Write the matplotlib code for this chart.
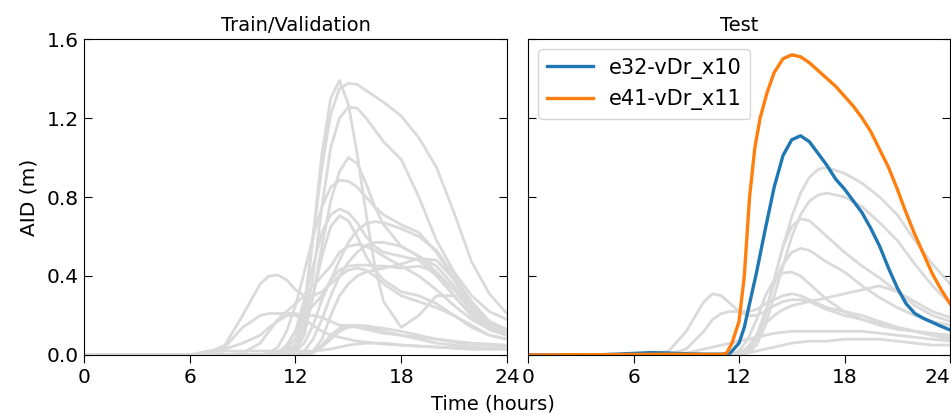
import matplotlib
matplotlib.use("Agg")
import matplotlib.pyplot as plt

# time grid (hours) shared by the grey ensemble curves
HOURS = [0, 6, 7, 8, 9, 10, 10.5, 11, 11.5, 12, 12.5, 13, 13.5, 14, 14.5,
         15, 15.5, 16, 16.5, 17, 18, 19, 20, 21, 22, 23, 24]

# AID (m) for the train/validation events
TRAIN_VAL = [
    [0, 0, 0, 0, 0, 0, 0, 0.01, 0.02, 0.05, 0.2, 0.6, 1.02, 1.3, 1.39,
     1.27, 1.02, 0.72, 0.45, 0.27, 0.14, 0.2, 0.3, 0.3, 0.2, 0.13, 0.1],
    [0, 0, 0, 0, 0, 0, 0, 0.01, 0.03, 0.08, 0.25, 0.6, 0.95, 1.22, 1.35,
     1.375, 1.37, 1.34, 1.31, 1.28, 1.21, 1.1, 0.95, 0.72, 0.47, 0.31, 0.21],
    [0, 0, 0, 0, 0, 0, 0, 0, 0.01, 0.04, 0.15, 0.4, 0.75, 1.05, 1.2,
     1.255, 1.25, 1.2, 1.14, 1.08, 0.99, 0.8, 0.58, 0.42, 0.3, 0.22, 0.18],
    [0, 0, 0, 0, 0, 0, 0, 0, 0.005, 0.02, 0.1, 0.3, 0.55, 0.78, 0.93,
     1.0, 0.97, 0.87, 0.75, 0.66, 0.55, 0.5, 0.42, 0.3, 0.2, 0.14, 0.11],
    [0, 0, 0, 0, 0, 0, 0.01, 0.04, 0.12, 0.25, 0.42, 0.6, 0.75, 0.85, 0.885,
     0.88, 0.85, 0.8, 0.75, 0.71, 0.66, 0.62, 0.52, 0.38, 0.25, 0.17, 0.13],
    [0, 0, 0, 0, 0, 0, 0, 0.01, 0.04, 0.12, 0.28, 0.45, 0.62, 0.71, 0.74,
     0.72, 0.67, 0.6, 0.55, 0.52, 0.5, 0.48, 0.4, 0.3, 0.2, 0.13, 0.1],
    [0, 0, 0, 0, 0, 0, 0, 0, 0.01, 0.03, 0.12, 0.3, 0.5, 0.65, 0.705,
     0.68, 0.6, 0.5, 0.43, 0.38, 0.32, 0.3, 0.26, 0.2, 0.14, 0.1, 0.08],
    [0, 0, 0, 0, 0, 0, 0, 0.01, 0.05, 0.12, 0.2, 0.25, 0.3, 0.38, 0.48,
     0.57, 0.63, 0.665, 0.675, 0.67, 0.64, 0.6, 0.53, 0.4, 0.27, 0.17, 0.12],
    [0, 0, 0, 0, 0, 0, 0, 0, 0, 0, 0.02, 0.08, 0.18, 0.3, 0.4,
     0.47, 0.52, 0.555, 0.57, 0.57, 0.55, 0.5, 0.45, 0.35, 0.24, 0.16, 0.12],
    [0, 0, 0, 0, 0, 0, 0, 0, 0, 0.02, 0.06, 0.15, 0.28, 0.38, 0.43,
     0.45, 0.455, 0.455, 0.45, 0.45, 0.44, 0.45, 0.42, 0.33, 0.22, 0.15, 0.11],
    [0, 0, 0, 0, 0, 0, 0, 0, 0, 0, 0, 0.02, 0.08, 0.2, 0.3,
     0.36, 0.4, 0.42, 0.43, 0.44, 0.46, 0.49, 0.48, 0.38, 0.25, 0.16, 0.11],
    [0, 0, 0.01, 0.05, 0.2, 0.36, 0.4, 0.405, 0.38, 0.33, 0.3, 0.3, 0.32, 0.36, 0.4,
     0.43, 0.44, 0.43, 0.4, 0.36, 0.3, 0.27, 0.24, 0.2, 0.15, 0.1, 0.08],
    [0, 0, 0.01, 0.04, 0.14, 0.2, 0.21, 0.21, 0.21, 0.21, 0.2, 0.2, 0.19, 0.17, 0.15,
     0.15, 0.14, 0.13, 0.12, 0.11, 0.1, 0.09, 0.08, 0.07, 0.06, 0.055, 0.05],
    [0, 0, 0, 0, 0, 0, 0, 0, 0, 0, 0.005, 0.02, 0.05, 0.1, 0.135,
     0.15, 0.15, 0.148, 0.14, 0.135, 0.12, 0.1, 0.08, 0.065, 0.055, 0.05, 0.045],
    [0, 0, 0, 0, 0, 0, 0, 0, 0, 0, 0, 0.01, 0.04, 0.08, 0.12,
     0.14, 0.145, 0.14, 0.13, 0.12, 0.1, 0.08, 0.06, 0.05, 0.04, 0.035, 0.03],
    [0, 0, 0.02, 0.03, 0.06, 0.1, 0.14, 0.17, 0.2, 0.2, 0.18, 0.15, 0.12, 0.1, 0.09,
     0.08, 0.07, 0.065, 0.06, 0.055, 0.05, 0.045, 0.04, 0.035, 0.03, 0.03, 0.03],
    [0, 0, 0, 0, 0.01, 0.06, 0.12, 0.18, 0.22, 0.26, 0.3, 0.35, 0.4, 0.45, 0.52,
     0.55, 0.56, 0.55, 0.53, 0.5, 0.45, 0.4, 0.33, 0.25, 0.18, 0.13, 0.1],
    [0, 0, 0.01, 0.02, 0.02, 0.02, 0.02, 0.02, 0.02, 0.02, 0.02, 0.02, 0.025, 0.03, 0.04,
     0.05, 0.055, 0.06, 0.06, 0.06, 0.05, 0.045, 0.04, 0.035, 0.03, 0.03, 0.03],
]

# AID (m) for the other test events (grey)
TEST_GREY = [
    [0, 0, 0, 0, 0, 0, 0, 0, 0, 0, 0.02, 0.08, 0.2, 0.38, 0.55,
     0.7, 0.82, 0.9, 0.94, 0.95, 0.92, 0.87, 0.8, 0.71, 0.58, 0.46, 0.36],
    [0, 0, 0, 0, 0, 0, 0, 0, 0, 0, 0.01, 0.05, 0.15, 0.3, 0.45,
     0.6, 0.71, 0.78, 0.81, 0.82, 0.8, 0.75, 0.67, 0.58, 0.46, 0.35, 0.26],
    [0, 0, 0, 0, 0, 0, 0, 0, 0, 0, 0.02, 0.08, 0.2, 0.38, 0.55,
     0.65, 0.69, 0.68, 0.64, 0.6, 0.52, 0.45, 0.39, 0.32, 0.25, 0.2, 0.17],
    [0, 0, 0, 0, 0, 0, 0, 0, 0, 0, 0.02, 0.1, 0.22, 0.36, 0.46,
     0.52, 0.54, 0.53, 0.5, 0.47, 0.42, 0.35, 0.29, 0.24, 0.2, 0.17, 0.15],
    [0, 0, 0, 0, 0, 0, 0, 0, 0, 0.02, 0.08, 0.18, 0.3, 0.38, 0.415,
     0.42, 0.4, 0.36, 0.32, 0.28, 0.22, 0.18, 0.15, 0.13, 0.12, 0.11, 0.1],
    [0, 0, 0, 0.02, 0.12, 0.27, 0.31, 0.3, 0.26, 0.22, 0.2, 0.2, 0.22, 0.25, 0.27,
     0.28, 0.28, 0.27, 0.25, 0.23, 0.2, 0.18, 0.16, 0.14, 0.12, 0.1, 0.09],
    [0, 0, 0, 0, 0.03, 0.12, 0.18, 0.21, 0.22, 0.22, 0.22, 0.23, 0.26, 0.28, 0.3,
     0.31, 0.3, 0.28, 0.26, 0.24, 0.22, 0.2, 0.17, 0.14, 0.12, 0.1, 0.08],
    [0, 0, 0, 0, 0, 0, 0, 0, 0, 0.01, 0.04, 0.1, 0.16, 0.2, 0.23,
     0.25, 0.26, 0.27, 0.28, 0.29, 0.31, 0.33, 0.35, 0.32, 0.27, 0.22, 0.19],
    [0, 0, 0, 0, 0.01, 0.03, 0.04, 0.05, 0.06, 0.07, 0.08, 0.09, 0.1, 0.11, 0.115,
     0.12, 0.12, 0.12, 0.12, 0.12, 0.12, 0.12, 0.11, 0.1, 0.09, 0.08, 0.07],
    [0, 0, 0, 0, 0, 0, 0, 0, 0, 0, 0.01, 0.02, 0.03, 0.04, 0.05,
     0.06, 0.065, 0.07, 0.07, 0.07, 0.08, 0.08, 0.08, 0.07, 0.06, 0.05, 0.05],
]

# highlighted test events
E32_HOURS = [0, 4, 5, 6, 7, 8, 9, 10, 11, 11.5, 12, 12.3, 12.6, 13, 13.5, 14, 14.5,
             15, 15.5, 16, 16.5, 17, 17.5, 18, 18.5, 19, 19.5, 20, 20.5, 21,
             21.5, 22, 22.5, 23, 23.5, 24]
E32_AID = [0, 0.001, 0.004, 0.008, 0.012, 0.01, 0.006, 0.004, 0.004, 0.01, 0.06,
           0.14, 0.26, 0.42, 0.64, 0.85, 1.01, 1.09, 1.11, 1.08, 1.02, 0.96,
           0.89, 0.84, 0.78, 0.72, 0.64, 0.55, 0.44, 0.34, 0.26, 0.21, 0.185,
           0.165, 0.145, 0.127]

E41_HOURS = [0, 5, 8, 10, 11, 11.3, 11.6, 12, 12.3, 12.6, 12.9, 13.2, 13.6, 14,
             14.5, 15, 15.5, 16, 16.5, 17, 17.5, 18, 18.5, 19, 19.5, 20, 20.5,
             21, 21.5, 22, 22.5, 23, 23.5, 24]
E41_AID = [0, 0.002, 0.004, 0.003, 0.003, 0.01, 0.06, 0.17, 0.4, 0.8, 1.05,
           1.2, 1.33, 1.43, 1.5, 1.52, 1.51, 1.48, 1.44, 1.40, 1.36, 1.31,
           1.26, 1.2, 1.13, 1.04, 0.95, 0.84, 0.72, 0.61, 0.51, 0.41, 0.33, 0.26]

GREY = "#dadada"

fig = plt.figure(figsize=(9.51, 4.15), dpi=100)
ax1 = fig.add_axes([0.0883, 0.1446, 0.4448, 0.7614])
ax2 = fig.add_axes([0.5552, 0.1446, 0.4438, 0.7614], sharey=ax1)

for vals in TRAIN_VAL:
    ax1.plot(HOURS, vals, color=GREY, lw=2)
for vals in TEST_GREY:
    ax2.plot(HOURS, vals, color=GREY, lw=2)
ax2.plot(E32_HOURS, E32_AID, color="#1f77b4", lw=2.4, label="e32-vDr_x10")
ax2.plot(E41_HOURS, E41_AID, color="#ff7f0e", lw=2.4, label="e41-vDr_x11")

for ax in (ax1, ax2):
    ax.set_xlim(0, 24)
    ax.set_ylim(0, 1.6)
    ax.set_xticks([0, 6, 12, 18, 24])
    ax.set_yticks([0, 0.4, 0.8, 1.2, 1.6])
    ax.tick_params(axis="x", direction="out", labelsize=14.5, length=6)
    ax.tick_params(axis="y", direction="in", right=True, labelsize=14.5, length=6)

ax1.set_yticklabels(["0.0", "0.4", "0.8", "1.2", "1.6"])
ax2.tick_params(axis="y", labelleft=False)

# last tick label of the right panel sits at the figure edge: keep it inside
fig.canvas.draw()
ax2.get_xticklabels()[-1].set_horizontalalignment("right")

ax1.set_title("Train/Validation", fontsize=14)
ax2.set_title("Test", fontsize=14)
ax1.set_ylabel("AID (m)", fontsize=14.5, labelpad=6)
fig.text(0.518, 0.004, "Time (hours)", ha="center", va="bottom", fontsize=14)

ax2.legend(loc="upper left", fontsize=15, handlelength=2.2)

fig.savefig("out.png", dpi=100)
